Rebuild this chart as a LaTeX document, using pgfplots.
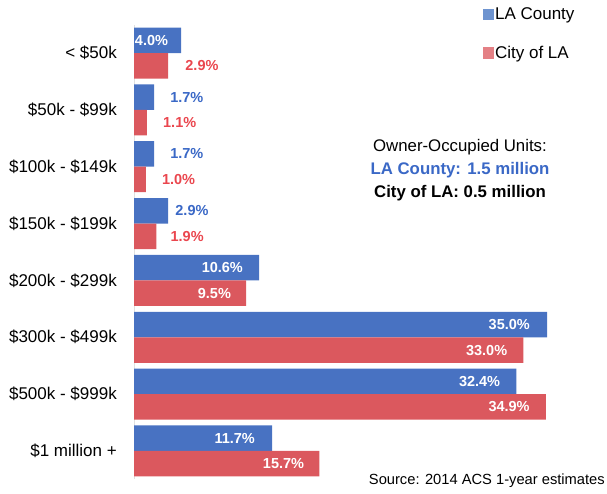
\documentclass[border=0pt]{standalone}
\usepackage{fontspec}
\setmainfont{Liberation Sans}
\usepackage{pgfplots}
\usepackage{pgfplotstable}
\pgfplotsset{compat=1.18}
\definecolor{barblue}{RGB}{72,114,194}
\definecolor{barred}{RGB}{219,88,94}
\definecolor{legblue}{RGB}{110,148,208}
\definecolor{legred}{RGB}{228,128,133}
\definecolor{txtblue}{RGB}{58,104,198}
\definecolor{txtred}{RGB}{234,70,78}

\pgfplotstableread{
y val
0 4.0
1 1.7
2 1.7
3 2.9
4 10.6
5 35.0
6 32.4
7 11.7
}\county
\pgfplotstableread{
y val
0 2.9
1 1.1
2 1.0
3 1.9
4 9.5
5 33.0
6 34.9
7 15.7
}\city
\pgfplotstableread{
y val sh
0 4.0 -13
4 10.6 -16
5 35.0 -17
6 32.4 -16
7 11.7 -17
}\countyin
\pgfplotstableread{
y val sh
1 1.7 16
2 1.7 16
3 2.9 7
}\countyout
\pgfplotstableread{
y val sh
4 9.5 -15
5 33.0 -16
6 34.9 -16
7 15.7 -15
}\cityin
\pgfplotstableread{
y val sh
0 2.9 17
1 1.1 16
2 1.0 16
3 1.9 14
}\cityout

\pgfplotsset{
  lbl/.style={xbar, bar width=25.5pt, draw=none, fill=none, forget plot, point meta=x,
    visualization depends on={\thisrow{sh}\as\myshift},
    nodes near coords={\pgfmathprintnumber[fixed,fixed zerofill,precision=1,assume math mode=true]{\pgfplotspointmeta}\%}},
}

\begin{document}
\begin{tikzpicture}[x=1pt,y=1pt]
\useasboundingbox (0,0) rectangle (607,493);
\begin{axis}[
  at={(134pt,13.6pt)}, anchor=south west,
  scale only axis, width=472pt, height=454.8pt,
  xmin=0, xmax=40, ymin=-0.5, ymax=7.5, y dir=reverse,
  hide x axis,
  axis y line*=left,
  y axis line style={draw=black!12,-},
  ytick={0,...,7},
  yticklabels={{< \$50k},{\$50k - \$99k},{\$100k - \$149k},{\$150k - \$199k},{\$200k - \$299k},{\$300k - \$499k},{\$500k - \$999k},{\$1 million +}},
  major tick length=0pt,
  yticklabel style={font=\fontsize{17}{20}\selectfont, inner sep=0pt, xshift=-17pt},
  legend style={at={(0.7394,1.041)}, anchor=north west, draw=none, fill=none, inner sep=0pt,
    font=\fontsize{17}{20}\selectfont, row sep=22pt, nodes={inner sep=1.5pt}},
  legend cell align=left,
  clip=false,
]
\addplot[xbar, bar width=25.5pt, bar shift=12.75pt, fill=barblue, draw=none, forget plot] table[x=val,y=y]{\county};
\addplot[xbar, bar width=25.5pt, bar shift=-12.75pt, fill=barred, draw=none, forget plot] table[x=val,y=y]{\city};

\addplot[lbl, bar shift=12.75pt,
  every node near coord/.append style={anchor=east, xshift=\myshift pt, yshift=12.75pt, inner sep=0pt, text=white, font=\bfseries\fontsize{14.5}{16}\selectfont}]
  table[x=val,y=y]{\countyin};
\addplot[lbl, bar shift=12.75pt,
  every node near coord/.append style={anchor=west, xshift=\myshift pt, yshift=12.75pt, inner sep=0pt, text=txtblue, font=\bfseries\fontsize{14.5}{16}\selectfont}]
  table[x=val,y=y]{\countyout};
\addplot[lbl, bar shift=-12.75pt,
  every node near coord/.append style={anchor=east, xshift=\myshift pt, yshift=-12.75pt, inner sep=0pt, text=white, font=\bfseries\fontsize{14.5}{16}\selectfont}]
  table[x=val,y=y]{\cityin};
\addplot[lbl, bar shift=-12.75pt,
  every node near coord/.append style={anchor=west, xshift=\myshift pt, yshift=-12.75pt, inner sep=0pt, text=txtred, font=\bfseries\fontsize{14.5}{16}\selectfont}]
  table[x=val,y=y]{\cityout};

\addlegendimage{legend image code/.code={\fill[legblue] (0pt,-5pt) rectangle (10pt,5.5pt);}}
\addlegendentry{LA County}
\addlegendimage{legend image code/.code={\fill[legred] (0pt,-5pt) rectangle (10pt,5.5pt);}}
\addlegendentry{City of LA}
\end{axis}
\node[font=\fontsize{16.8}{20}\selectfont] at (460,346) {Owner-Occupied Units:};
\node[font=\bfseries\fontsize{16.8}{20}\selectfont, text=txtblue] at (460,323) {LA County: 1.5 million};
\node[font=\bfseries\fontsize{16.8}{20}\selectfont] at (460,300) {City of LA: 0.5 million};
\node[font=\fontsize{14.7}{17}\selectfont, anchor=east, inner sep=0pt] at (605,12) {Source: 2014 ACS 1-year estimates};
\end{tikzpicture}
\end{document}
